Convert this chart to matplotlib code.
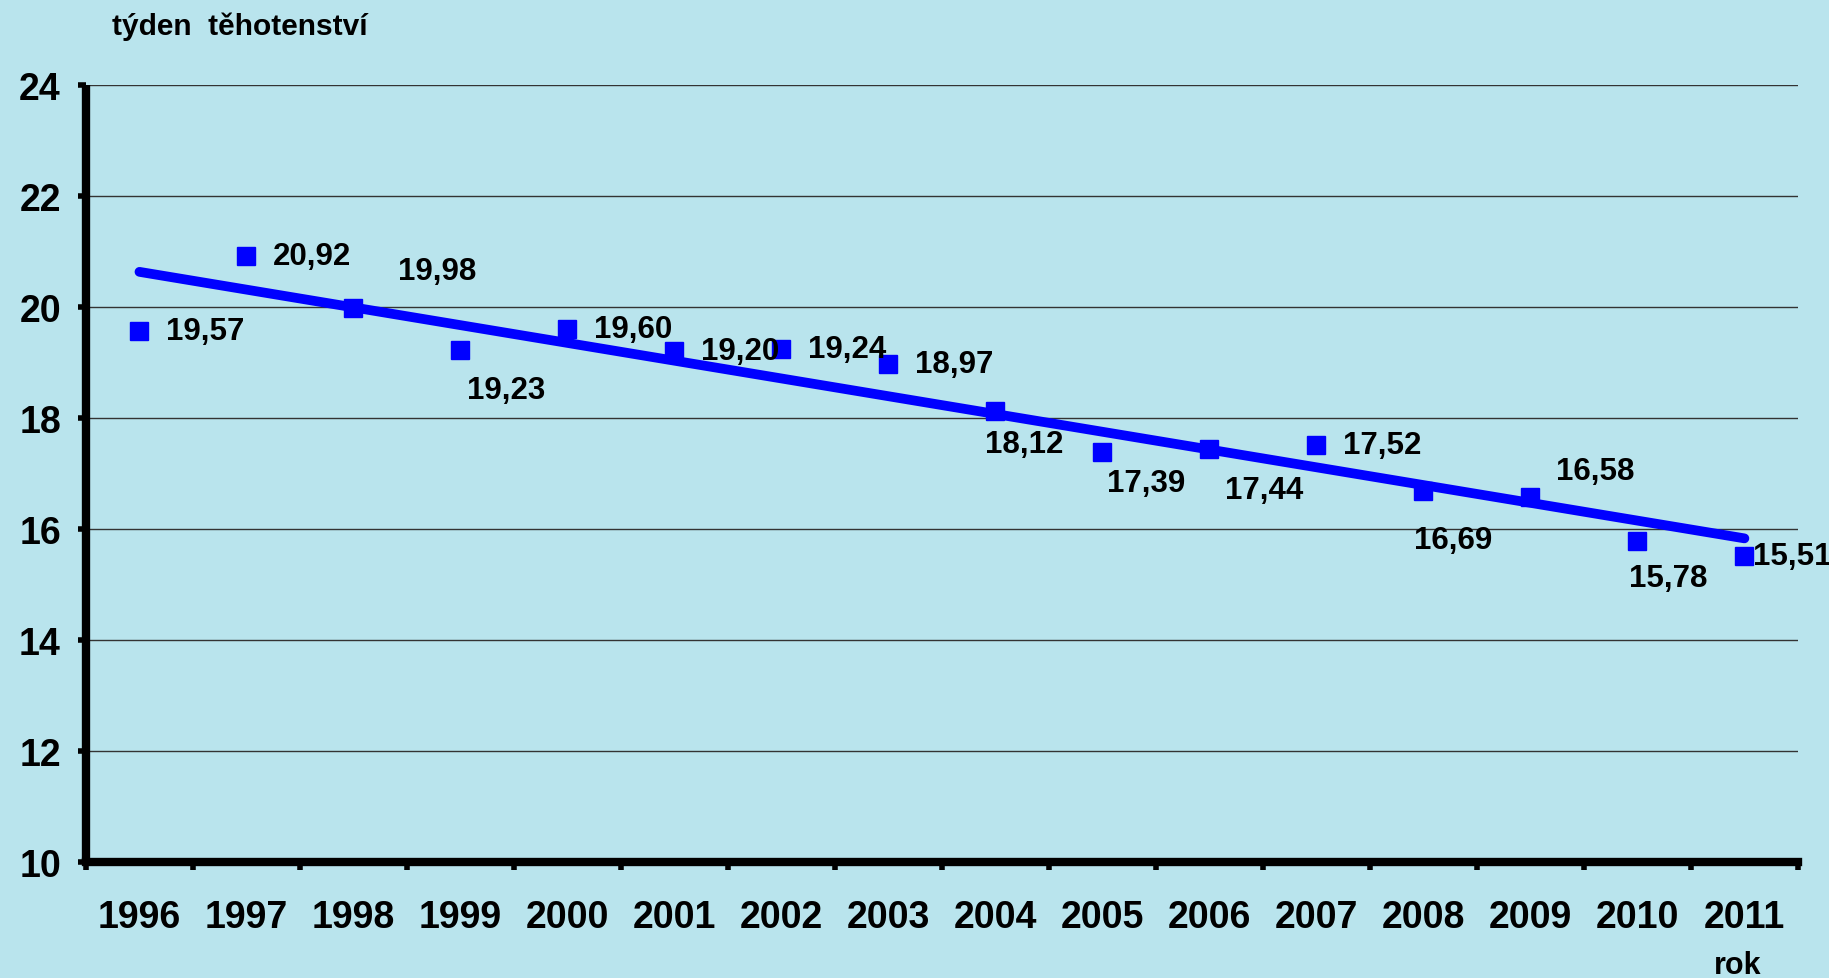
#!/usr/bin/env python3
"""Gestational week trend 1996-2011."""

import matplotlib.pyplot as plt
import numpy as np

years = ['1996', '1997', '1998', '1999', '2000', '2001', '2002', '2003',
         '2004', '2005', '2006', '2007', '2008', '2009', '2010', '2011']
weeks = [19.57, 20.92, 19.98, 19.23, 19.60, 19.20, 19.24, 18.97,
         18.12, 17.39, 17.44, 17.52, 16.69, 16.58, 15.78, 15.51]
yticks = [10, 12, 14, 16, 18, 20, 22, 24]

# label offsets in pixels (dx, dy) relative to the marker
offsets = [(27, 0), (26, 0), (45, 37), (7, -40), (27, 0), (27, 0), (27, 0), (27, 0),
           (-10, -33), (5, -31), (16, -41), (27, 0), (-9, -49), (26, 26), (-8, -37), (9, 0)]

bg = '#B9E4ED'
plt.rcParams['font.family'] = ['Liberation Sans', 'DejaVu Sans']
plt.rcParams['font.weight'] = 'bold'

fig = plt.figure(figsize=(18.29, 9.79), dpi=100, facecolor=bg)
ax = fig.add_axes([0.047, 0.1185, 0.936, 0.7935])
ax.set_facecolor(bg)

x = np.arange(len(years))
ax.set_xlim(-0.5, len(years) - 0.5)
ax.set_ylim(10, 24)

for y in yticks[1:]:
    ax.axhline(y, color='#333333', linewidth=1.0, zorder=1)

# linear trend line
coef = np.polyfit(x, weeks, 1)
ax.plot(x, np.polyval(coef, x), color='#0000FF', linewidth=7,
        solid_capstyle='round', zorder=3)

ax.plot(x, weeks, linestyle='none', marker='s', markersize=13,
        color='#0000FF', zorder=4)

for xi, v, (dx, dy) in zip(x, weeks, offsets):
    ax.annotate(f'{v:.2f}'.replace('.', ','), (xi, v), xytext=(dx, dy),
                textcoords='offset pixels', ha='left', va='center',
                fontsize=22.5, fontweight='bold', color='black', zorder=5)

for side in ['top', 'right']:
    ax.spines[side].set_visible(False)
ax.spines['left'].set_linewidth(6)
ax.spines['bottom'].set_linewidth(6)
ax.spines['left'].set_capstyle('butt')

ax.set_yticks(yticks)
ax.set_yticklabels([str(t) for t in yticks])
ax.tick_params(axis='y', direction='out', length=6, width=4, pad=12,
               labelsize=27)

ax.set_xticks(np.arange(-0.5, len(years), 1.0))
ax.set_xticklabels([])
ax.set_xticks(x, minor=True)
ax.set_xticklabels(years, minor=True)
ax.tick_params(axis='x', which='major', direction='out', length=6, width=4)
ax.tick_params(axis='x', which='minor', length=0, pad=27, labelsize=27)
for lab in ax.get_xticklabels(minor=True) + ax.get_yticklabels():
    lab.set_fontweight('bold')

fig.text(0.061, 0.973, 'týden  těhotenství', fontsize=21.5, fontweight='bold',
         ha='left', va='center')
fig.text(0.95, 0.013, 'rok', fontsize=22, fontweight='bold',
         ha='center', va='center')

plt.savefig('out.png', dpi=100, facecolor=bg)
plt.close()
